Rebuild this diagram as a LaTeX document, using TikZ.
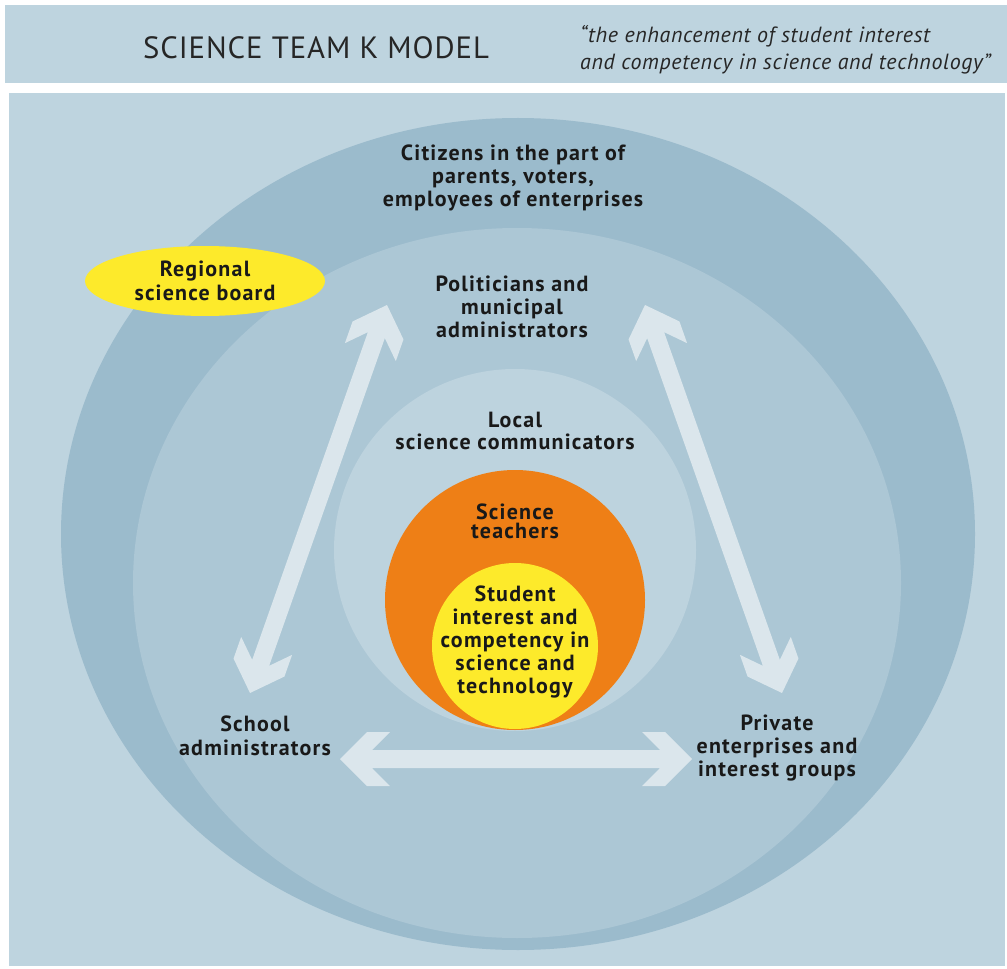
\documentclass[tikz,border=0pt]{standalone}
\usepackage{fontspec}
\setmainfont{PT Sans}[BoldFeatures={LetterSpace=5.5},ItalicFeatures={LetterSpace=3}]
\usetikzlibrary{calc,positioning,shapes.geometric}

\definecolor{panel}{HTML}{BED4DF}
\definecolor{ring}{HTML}{9BBBCC}
\definecolor{midring}{HTML}{ACC7D5}
\definecolor{local}{HTML}{BDD3DE}
\definecolor{arrowc}{HTML}{DBE6EC}
\definecolor{teach}{HTML}{EE7F16}
\definecolor{stud}{HTML}{FDEA2B}

\newcommand\biarrow[2]{%
  \fill[arrowc] (#1)
    -- ($(#1)!0.54cm!(#2)!0.54cm!90:(#2)$) -- ($(#1)!1cm!(#2)!0.54cm!90:(#2)$)
    -- ($(#1)!0.64cm!(#2)!0.18cm!90:(#2)$) -- ($(#2)!0.64cm!(#1)!0.18cm!-90:(#1)$)
    -- ($(#2)!1cm!(#1)!0.54cm!-90:(#1)$) -- ($(#2)!0.54cm!(#1)!0.54cm!-90:(#1)$)
    -- (#2)
    -- ($(#2)!0.54cm!(#1)!0.54cm!90:(#1)$) -- ($(#2)!1cm!(#1)!0.54cm!90:(#1)$)
    -- ($(#2)!0.64cm!(#1)!0.18cm!90:(#1)$) -- ($(#1)!0.64cm!(#2)!0.18cm!-90:(#2)$)
    -- ($(#1)!1cm!(#2)!0.54cm!-90:(#2)$) -- ($(#1)!0.54cm!(#2)!0.54cm!-90:(#2)$)
    -- cycle;}

\begin{document}
\begin{tikzpicture}[x=0.02cm,y=-0.02cm,
    lbl/.style={align=center,text=black!90,inner sep=0pt,
      font=\bfseries\fontsize{12.5}{13}\selectfont}]
  \useasboundingbox (0,0) rectangle (1007,969);
  \fill[white] (0,0) rectangle (1007,969);
  \fill[panel] (5,5) rectangle (1007,83);
  \fill[panel] (9,93) rectangle (1005,966);

  \node[font=\addfontfeatures{LetterSpace=3}\fontsize{17.5}{20}\selectfont,text=black!85] (title) at (316,48) {SCIENCE TEAM K MODEL};
  \node[anchor=west,align=left,text=black!85,font=\itshape\fontsize{12.5}{15.3}\selectfont] (motto) at (574,50)
    {“the enhancement of student interest\\ and competency in science and technology”};

  \fill[ring] (518,534) ellipse [x radius=457, y radius=416];
  \fill[midring] (517,583) ellipse [x radius=384, y radius=355];
  \fill[local] (515,550) circle [radius=181];
  \fill[teach] (515,600) circle [radius=130];
  \fill[stud] (515,646) circle [radius=83];

  \coordinate (pl) at (387,305);
  \coordinate (sa) at (250,693);
  \coordinate (pr) at (645,305);
  \coordinate (pe) at (782,693);
  \coordinate (hl) at (340,759);
  \coordinate (hr) at (692,759);
  \foreach \a/\b in {pl/sa, pr/pe, hl/hr}
    {\biarrow{\a}{\b}}

  \node[ellipse,fill=stud,minimum width=4.8cm,minimum height=1.4cm,inner sep=0pt] (board) at (205,281) {};
  \node[lbl,font=\bfseries\fontsize{12.5}{14}\selectfont] (boardtxt) at (board) {Regional\\science board};

  \node[lbl] (citizens) at (513,178) {Citizens in the part of\\parents, voters,\\employees of enterprises};
  \node[lbl] (politicians) at (512,307) {Politicians and\\municipal\\administrators};
  \node[lbl,font=\bfseries\fontsize{12.5}{12}\selectfont] (communicators) at (515,431) {Local\\science communicators};
  \node[lbl,font=\bfseries\fontsize{12.5}{11}\selectfont] (teachers) at (515,521) {Science\\teachers};
  \node[lbl] (student) at (515,642) {Student\\interest and\\competency in\\science and\\technology};
  \node[lbl,font=\bfseries\fontsize{12.5}{14}\selectfont] (school) at (255,736) {School\\administrators};
  \node[lbl] (private) at (777,748) {Private\\enterprises and\\interest groups};
\end{tikzpicture}
\end{document}
